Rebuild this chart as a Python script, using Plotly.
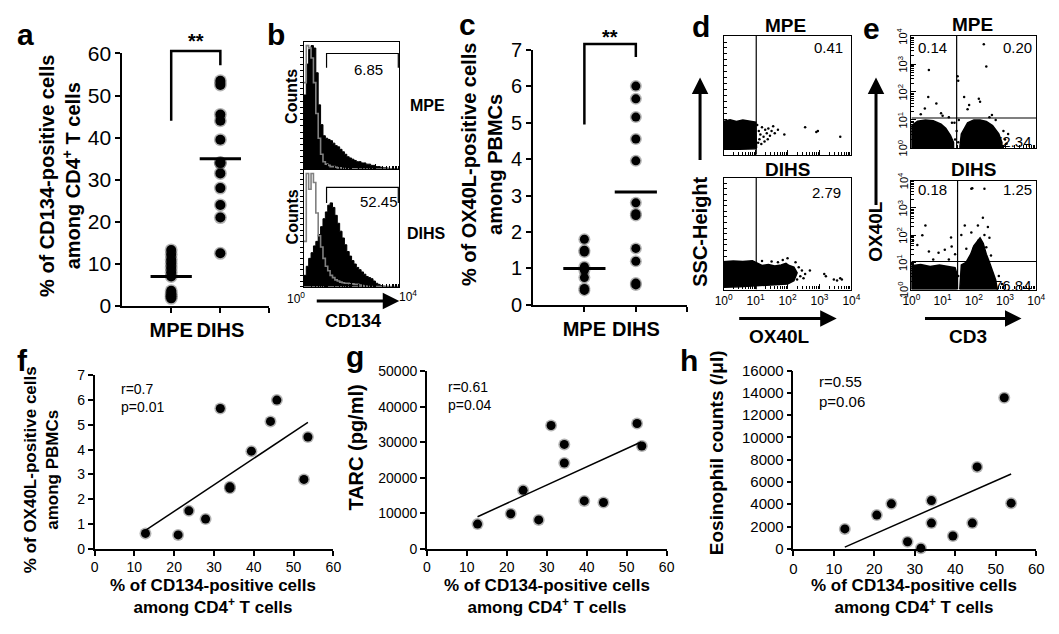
import math
import plotly.graph_objects as go

W, H = 1059, 634
SANS = "Liberation Sans, Arial, Helvetica, sans-serif"

# ---------------- values ----------------
groups = ["MPE", "DIHS"]
group_ticks = ["<b>MPE</b>", "<b>DIHS</b>", ""]

# a: % CD134+ among CD4+ T cells
a_mpe = [13.3, 12.2, 11.0, 10.0, 9.0, 8.0, 7.0, 3.6, 2.8, 2.3, 1.8]
a_dihs = [53.5, 52.5, 45.5, 44.0, 39.5, 34.0, 34.0, 31.5, 28.0, 24.0, 21.0, 12.5]
a_centre = [7.0, 35.0]
a_bracket = [44.0, 60.6, 60.6, 57.2]

# c: % OX40L+ among PBMCs
c_mpe = [1.8, 1.5, 1.45, 1.05, 0.95, 0.75, 0.45, 0.4]
c_dihs = [6.0, 5.65, 5.15, 4.55, 3.95, 2.8, 2.5, 2.45, 1.55, 1.2, 0.6, 0.55]
c_centre = [1.0, 3.1]
c_bracket = [4.95, 7.15, 7.15, 6.8]

# b: CD134 histograms (log10 fluorescence bins, % of max count)
hist_edges = [0.0, 0.1, 0.2, 0.3, 0.4, 0.5, 0.6, 0.7, 0.8, 0.9,
              1.0, 1.1, 1.2, 1.3, 1.4, 1.5, 1.6, 1.7, 1.8, 1.9,
              2.0, 2.1, 2.2, 2.3, 2.4, 2.5, 2.6, 2.7, 2.8, 2.9,
              3.0, 3.1, 3.2, 3.3, 3.4, 3.5, 3.6, 3.7, 3.8, 3.9, 4.0]
b_mpe_cd134 = [60, 85, 97, 100, 98, 78, 52, 36, 27, 25,
               24, 23, 21, 19, 18, 16, 14, 12, 10, 9,
               8, 7, 6, 6, 5, 5, 4, 4, 3, 3,
               2, 2, 1.5, 1, 1, 0.7, 0.5, 0.3, 0.2, 0]
b_mpe_ctrl = [70, 100, 98, 90, 70, 45, 25, 12, 6, 4,
              3, 2, 2, 1.5, 1, 1, 0.5, 0.5, 0.3, 0.3,
              0.2, 0.2, 0.1, 0.1, 0, 0, 0, 0, 0, 0,
              0, 0, 0, 0, 0, 0, 0, 0, 0, 0]
b_dihs_cd134 = [10, 18, 25, 30, 36, 40, 46, 53, 60, 66,
                72, 74, 70, 63, 56, 49, 43, 37, 31, 27,
                23, 20, 17, 15, 13, 11, 9, 8, 7, 5,
                3, 2, 1, 0.5, 0.3, 0.2, 0.1, 0, 0, 0]
b_dihs_ctrl = [40, 100, 86, 100, 92, 65, 45, 35, 25, 18,
               14, 10, 8, 6, 5, 4, 3.5, 3, 3, 2.5,
               2.5, 2, 2, 1.5, 1, 0.5, 0.3, 0.2, 0, 0,
               0, 0, 0, 0, 0, 0, 0, 0, 0, 0]
b_gate_x = [0.95, 0.95, 3.96, 3.96]
b_gate_mpe_y = [82, 93.6, 93.6, 82]
b_gate_dihs_y = [74, 87.7, 87.7, 74]
b_pct = ["6.85", "52.45"]
b_end_labels = ["10<sup>0</sup>", "10<sup>4</sup>"]

log_values = [0, 1, 2, 3, 4]
log_ticktext = ["10<sup>0</sup>", "10<sup>1</sup>", "10<sup>2</sup>", "10<sup>3</sup>", "10<sup>4</sup>"]

# d: OX40L vs SSC dot plots (x in log10 units, SSC on 0-1000)
d_gate = 1.02
d_pct = ["0.41", "2.79"]
d_mpe_blob_x = [0.0, 0.0, 0.2, 0.4, 0.6, 0.8, 1.0, 1.03, 1.0, 0.5, 0.0]
d_mpe_blob_y = [45, 280, 295, 280, 292, 285, 275, 60, 50, 45, 45]
d_mpe_dots_x = [1.05, 1.1, 1.12, 1.15, 1.2, 1.25, 1.3, 1.35, 1.4, 1.45, 1.5, 1.55, 1.6, 1.7, 1.9,
                1.08, 1.18, 1.28, 1.38, 2.55, 2.9, 2.95, 3.65]
d_mpe_dots_y = [250, 200, 130, 170, 230, 150, 210, 180, 220, 160, 200, 240, 180, 210, 170,
                100, 90, 110, 130, 230, 190, 200, 150]
d_dihs_blob_x = [0.0, 0.0, 0.3, 0.6, 0.9, 1.0, 1.2, 1.4, 1.6, 1.8, 1.95, 2.05, 2.2, 2.3, 2.2, 2.0, 1.5, 1.0, 0.5, 0.0]
d_dihs_blob_y = [20, 250, 255, 250, 258, 245, 215, 225, 210, 220, 235, 215, 200, 150, 80, 50, 40, 30, 25, 20]
d_dihs_dots_x = [2.35, 2.4, 2.45, 2.5, 2.55, 2.7, 3.15, 3.2, 3.45, 3.55, 3.65, 3.7, 2.0, 1.85, 1.5,
                 1.2, 2.25, 2.1, 2.3, 1.7]
d_dihs_dots_y = [200, 120, 170, 100, 140, 170, 140, 120, 90, 80, 100, 90, 280, 265, 250,
                 255, 245, 120, 90, 245]

# e: CD3 vs OX40L dot plots (both log10 units)
e_gate_x = [1.45, 1.48]
e_gate_y = [1.07, 1.03]
e_pct_mpe = ["0.14", "0.20", "72.34"]
e_pct_dihs = ["0.18", "1.25", "76.84"]
e_mpe_left_x = [0.0, 0.0, 0.2, 0.45, 0.7, 0.95, 1.1, 1.25, 1.35, 1.35, 0.0]
e_mpe_left_y = [0.0, 0.8, 0.95, 1.0, 0.97, 0.85, 0.7, 0.45, 0.2, 0.0, 0.0]
e_mpe_right_x = [1.55, 1.6, 1.8, 2.0, 2.2, 2.4, 2.6, 2.8, 2.9, 2.9, 1.55]
e_mpe_right_y = [0.0, 0.5, 0.9, 1.0, 1.0, 0.95, 0.8, 0.5, 0.2, 0.0, 0.0]
e_mpe_dots_x = [2.32, 2.40, 1.48, 1.5, 0.56, 0.54, 0.43, 0.8, 0.95, 1.69, 1.85, 2.16, 2.2, 2.58, 1.8,
                1.4, 1.45, 1.5, 1.38, 1.52, 3.0, 2.95, 3.05, 0.3, 1.0, 1.2, 1.3, 2.5, 2.7, 3.1]
e_mpe_dots_y = [3.71, 2.91, 2.56, 2.4, 2.79, 1.82, 1.41, 1.59, 1.24, 1.82, 1.53, 1.76, 1.65, 1.18, 1.38,
                0.3, 0.6, 0.2, 0.9, 1.0, 0.3, 0.6, 0.15, 1.2, 1.15, 1.1, 0.9, 1.1, 1.0, 0.5]
e_dihs_left_x = [0.0, 0.0, 0.3, 0.6, 0.9, 1.2, 1.4, 1.45, 1.45, 0.0]
e_dihs_left_y = [0.0, 0.88, 0.92, 0.85, 0.9, 0.85, 0.8, 0.6, 0.0, 0.0]
e_dihs_right_x = [1.55, 1.6, 1.75, 1.9, 2.0, 2.1, 2.2, 2.3, 2.4, 2.5, 2.6, 2.7, 2.75, 1.55]
e_dihs_right_y = [0.0, 0.9, 1.0, 1.3, 1.6, 1.75, 1.9, 1.7, 1.3, 1.0, 0.7, 0.35, 0.0, 0.0]
e_dihs_dots_x = [0.45, 0.35, 1.27, 0.19, 0.56, 0.87, 1.07, 1.29, 0.7, 1.2, 1.4,
                 1.92, 1.95, 2.34, 2.29, 2.13, 1.71, 1.92, 2.45, 2.34, 2.15, 2.5, 2.4, 1.6, 1.76,
                 2.55, 1.98, 2.2, 2.8, 2.9, 1.5, 0.05]
e_dihs_dots_y = [2.35, 1.99, 1.91, 1.64, 1.4, 1.35, 1.46, 1.58, 1.1, 1.1, 1.3,
                 3.7, 3.72, 3.7, 2.64, 2.35, 2.35, 2.1, 2.3, 2.0, 1.8, 1.9, 1.55, 2.0, 1.5,
                 1.25, 1.5, 1.75, 0.5, 0.2, 0.5, 1.8]

# f, g, h: correlations with % CD134+ cells
f_x = [12.8, 21.0, 23.7, 27.9, 31.6, 34.0, 34.0, 39.4, 44.2, 45.8, 52.6, 53.6]
f_y = [0.62, 0.56, 1.53, 1.2, 5.66, 2.5, 2.44, 3.94, 5.14, 6.0, 2.8, 4.51]
f_fit_x = [12.6, 53.6]
f_fit_y = [0.72, 5.1]
f_stats = "r=0.7<br>p=0.01"

g_x = [12.7, 21.0, 24.1, 28.0, 31.1, 34.4, 34.4, 39.4, 44.2, 52.6, 53.8]
g_y = [6975, 9870, 16490, 8150, 34780, 29440, 24180, 13500, 13040, 35330, 28990]
g_fit_x = [12.7, 53.6]
g_fit_y = [9050, 30100]
g_stats = "r=0.61<br>p=0.04"

h_x = [12.7, 20.6, 24.2, 28.2, 31.5, 34.1, 34.1, 39.4, 44.2, 45.4, 52.1, 53.8]
h_y = [1787, 3027, 4036, 634, 58, 4324, 2306, 1153, 2306, 7351, 13550, 4094]
h_fit_x = [12.7, 53.8]
h_fit_y = [144, 6717]
h_stats = "r=0.55<br>p=0.06"

cd134_title = "<b>% of CD134-positive cells<br>among CD4<sup>+</sup> T cells</b>"


# ---------------- helpers (positions in pixels from the top-left) ----------------
def px(x):
    return x / W


def py(y):
    return 1 - y / H


def xd(left, right):
    return [px(left), px(right)]


def yd(top, bottom):
    return [py(bottom), py(top)]


def axis(domain, anchor, **kw):
    d = dict(domain=domain, anchor=anchor, showline=True, linecolor="black", linewidth=1.5,
             showgrid=False, zeroline=False, ticks="outside", tickcolor="black",
             ticklen=5, tickwidth=1.5,
             tickfont=dict(family=SANS, size=14, color="black"))
    d.update(kw)
    return d


LOG_MINOR = [dec + math.log10(k) for dec in range(4) for k in range(2, 10)]


def log_axis(domain, anchor, labels=False, **kw):
    return axis(domain, anchor, range=[0, 4], tickvals=log_values,
                ticktext=log_ticktext, showticklabels=labels, ticks="inside",
                ticklen=5, tickwidth=1, linewidth=1.2, mirror=True,
                tickfont=dict(family=SANS, size=12, color="black"),
                minor=dict(tickvals=LOG_MINOR, ticks="inside", ticklen=3,
                           tickwidth=1, tickcolor="black"), **kw)


traces = []


def dots(x, y, xa, ya, size=10):
    # soft edge like the scanned markers, then the solid core
    traces.append(go.Scatter(x=x, y=y, xaxis=xa, yaxis=ya, mode="markers", cliponaxis=False,
                             marker=dict(size=size + 3, color="rgba(0,0,0,0.3)"),
                             hoverinfo="skip"))
    traces.append(go.Scatter(x=x, y=y, xaxis=xa, yaxis=ya, mode="markers", cliponaxis=False,
                             marker=dict(size=size, color="black")))


def line(x, y, xa, ya, width=1.5, color="black", **kw):
    traces.append(go.Scatter(x=x, y=y, xaxis=xa, yaxis=ya, mode="lines",
                             line=dict(color=color, width=width), hoverinfo="skip", **kw))


def blob(x, y, xa, ya):
    traces.append(go.Scatter(x=x, y=y, xaxis=xa, yaxis=ya, mode="lines", fill="toself",
                             fillcolor="black", line=dict(color="black", width=1.5),
                             hoverinfo="skip"))


def speckle(x, y, xa, ya):
    traces.append(go.Scatter(x=x, y=y, xaxis=xa, yaxis=ya, mode="markers",
                             marker=dict(size=2.5, color="black"), hoverinfo="skip"))


# ---------------- a ----------------
dots([1] * len(a_mpe), a_mpe, "x", "y")
dots([2] * len(a_dihs), a_dihs, "x", "y")
for i, v in enumerate(a_centre):
    line([i + 1 - 0.42, i + 1 + 0.42], [v, v], "x", "y", width=3)
line([1, 1, 2, 2], a_bracket, "x", "y12", width=2.5)

# ---------------- c ----------------
dots([1] * len(c_mpe), c_mpe, "x4", "y4", size=9)
dots([2] * len(c_dihs), c_dihs, "x4", "y4", size=9)
for i, v in enumerate(c_centre):
    line([i + 1 - 0.41, i + 1 + 0.41], [v, v], "x4", "y4", width=3)
line([1, 1, 2, 2], c_bracket, "x4", "y13", width=2.5)

# ---------------- b ----------------
for vals, ctrl, xa, ya, gate in [(b_mpe_cd134, b_mpe_ctrl, "x2", "y2", b_gate_mpe_y),
                                 (b_dihs_cd134, b_dihs_ctrl, "x3", "y3", b_gate_dihs_y)]:
    traces.append(go.Scatter(x=hist_edges, y=vals + vals[-1:], xaxis=xa, yaxis=ya,
                             mode="lines", line=dict(shape="hv", color="black", width=1),
                             fill="tozeroy", fillcolor="black", hoverinfo="skip"))
    traces.append(go.Scatter(x=hist_edges, y=ctrl + ctrl[-1:], xaxis=xa, yaxis=ya,
                             mode="lines", line=dict(shape="hv", color="#808080", width=1.6),
                             hoverinfo="skip"))
    line(b_gate_x, gate, xa, ya, width=1.2)

# ---------------- d ----------------
blob(d_mpe_blob_x, d_mpe_blob_y, "x5", "y5")
speckle(d_mpe_dots_x, d_mpe_dots_y, "x5", "y5")
blob(d_dihs_blob_x, d_dihs_blob_y, "x6", "y6")
speckle(d_dihs_dots_x, d_dihs_dots_y, "x6", "y6")
for ya in ["y5", "y6"]:
    line([d_gate, d_gate], [0, 1000], "x" + ya[1:], ya, width=1.2)

# ---------------- e ----------------
blob(e_mpe_left_x, e_mpe_left_y, "x7", "y7")
blob(e_mpe_right_x, e_mpe_right_y, "x7", "y7")
speckle(e_mpe_dots_x, e_mpe_dots_y, "x7", "y7")
blob(e_dihs_left_x, e_dihs_left_y, "x8", "y8")
blob(e_dihs_right_x, e_dihs_right_y, "x8", "y8")
speckle(e_dihs_dots_x, e_dihs_dots_y, "x8", "y8")
for k, (xa, ya) in enumerate([("x7", "y7"), ("x8", "y8")]):
    line([e_gate_x[k], e_gate_x[k]], [0, 4], xa, ya, width=1.2)
    line([0, 4], [e_gate_y[k], e_gate_y[k]], xa, ya, width=1.2)

# ---------------- f, g, h ----------------
for xs, ys, fx, fy, xa, ya in [(f_x, f_y, f_fit_x, f_fit_y, "x9", "y9"),
                               (g_x, g_y, g_fit_x, g_fit_y, "x10", "y10"),
                               (h_x, h_y, h_fit_x, h_fit_y, "x11", "y11")]:
    line(fx, fy, xa, ya, width=1.5)
    dots(xs, ys, xa, ya, size=9)

fig = go.Figure(traces)

layout = dict(width=W, height=H, margin=dict(l=0, r=0, t=0, b=0), showlegend=False,
              paper_bgcolor="white", plot_bgcolor="rgba(0,0,0,0)",
              font=dict(family=SANS, color="black"))

big_ticks = dict(family=SANS, size=21, color="black")
grp_font = dict(family=SANS, size=20, color="black")

# a
layout["xaxis"] = axis(xd(115, 265), "y", range=[0, 3], tickvals=[1, 2, 3],
                       ticktext=group_ticks, tickfont=grp_font)
layout["yaxis"] = axis(yd(43, 305), "x", range=[0, 60], dtick=10, tickfont=big_ticks)
layout["yaxis12"] = dict(domain=yd(15, 305), anchor="x", range=[0, 60 * 290 / 262], visible=False)
# c
layout["xaxis4"] = axis(xd(533, 690), "y4", range=[0, 3], tickvals=[1, 2, 3],
                        ticktext=group_ticks, tickfont=grp_font)
layout["yaxis4"] = axis(yd(39, 304), "x4", range=[0, 7], dtick=1,
                        tickfont=dict(family=SANS, size=20, color="black"))
layout["yaxis13"] = dict(domain=yd(15, 304), anchor="x4", range=[0, 7 * 289 / 265], visible=False)
# b
for n, (top, bot) in [(2, (31, 163)), (3, (164, 285))]:
    layout[f"xaxis{n}"] = log_axis(xd(300, 397), f"y{n}")
    layout[f"yaxis{n}"] = axis(yd(top, bot), f"x{n}", range=[0, 103], dtick=5, ticklen=3,
                               tickwidth=1, linewidth=1.2, mirror=True, showticklabels=False)
# d
for n, (top, bot) in [(5, (25, 148)), (6, (172, 288))]:
    layout[f"xaxis{n}"] = log_axis(xd(727, 857), f"y{n}", labels=(n == 6))
    layout[f"yaxis{n}"] = axis(yd(top, bot), f"x{n}", range=[0, 1000], dtick=50, ticks="inside",
                               ticklen=3, tickwidth=1, linewidth=1.2, mirror=True,
                               showticklabels=False)
# e (y tick labels are written rotated, see annotations)
for n, (top, bot) in [(7, (25, 141)), (8, (175, 288))]:
    layout[f"xaxis{n}"] = log_axis(xd(918, 1045), f"y{n}", labels=(n == 8))
    layout[f"yaxis{n}"] = log_axis(yd(top, bot), f"x{n}")
# f g h
layout["xaxis9"] = axis(xd(87, 330), "y9", range=[0, 60], dtick=10)
layout["yaxis9"] = axis(yd(377, 557), "x9", range=[0, 7], dtick=1)
layout["xaxis10"] = axis(xd(425, 669), "y10", range=[0, 60], dtick=10)
layout["yaxis10"] = axis(yd(373, 557), "x10", range=[0, 50000], dtick=10000, tickformat="d")
layout["xaxis11"] = axis(xd(798, 1045), "y11", range=[0, 60], dtick=10,
                         tickfont=dict(family=SANS, size=15, color="black"))
layout["yaxis11"] = axis(yd(372, 557), "x11", range=[0, 16000], dtick=2000, tickformat="d",
                         tickfont=dict(family=SANS, size=15, color="black"))

fig.update_layout(layout)

ann = []


def text(t, x, y, size, bold=False, angle=0, xanchor="center"):
    ann.append(dict(text=f"<b>{t}</b>" if bold else t, x=px(x), y=py(y), xref="paper",
                    yref="paper", showarrow=False, textangle=angle,
                    xanchor=xanchor, yanchor="middle",
                    font=dict(family=SANS, size=size, color="black")))


def data_text(t, x, y, xa, ya, size, xanchor="center", align="center", angle=0):
    ann.append(dict(text=t, x=x, y=y, xref=xa, yref=ya, showarrow=False, textangle=angle,
                    xanchor=xanchor, yanchor="middle", align=align,
                    font=dict(family=SANS, size=size, color="black")))


def arrow(hx, hy, tx, ty):
    ann.append(dict(text="", x=px(hx), y=py(hy), xref="paper", yref="paper",
                    ax=tx - hx, ay=ty - hy, axref="pixel", ayref="pixel", showarrow=True,
                    arrowhead=2, arrowsize=1.1, arrowwidth=3, arrowcolor="black"))


# panel letters
for letter, x, y in [("a", 17, 23), ("b", 272, 23), ("c", 466, 13), ("d", 704, 15),
                     ("e", 877, 17), ("f", 14, 362), ("g", 352, 357), ("h", 692, 362)]:
    text(letter, x, y, 30, bold=True)

# a and c
text("% of CD134-positive cells<br>among CD4<sup>+</sup> T cells", 52, 170, 20, bold=True, angle=-90)
text("% of OX40L-positive cells<br>among PBMCs", 481, 158, 20, bold=True, angle=-90)
data_text("<b>**</b>", 1.5, 63, "x", "y12", 20)
data_text("<b>**</b>", 1.5, 7.34, "x4", "y13", 20)

# b
text("Counts", 288, 88, 16, bold=True, angle=-90)
text("Counts", 288, 213, 16, bold=True, angle=-90)
text(groups[0], 426, 97, 16, bold=True)
text(groups[1], 425, 230, 16, bold=True)
data_text(b_pct[0], 2.72, 81, "x2", "y2", 15)
data_text(b_pct[1], 3.13, 75, "x3", "y3", 15)
text(b_end_labels[0], 292, 297, 12)
text(b_end_labels[1], 406, 295, 12)
arrow(397, 300, 313, 300)
text("CD134", 350, 321, 18, bold=True)

# d
text(groups[0], 790, 14, 19, bold=True)
text(groups[1], 792, 163, 19, bold=True)
data_text(d_pct[0], 3.8, 900, "x5", "y5", 15, xanchor="right")
data_text(d_pct[1], 3.75, 870, "x6", "y6", 15, xanchor="right")
text("SSC-Height", 703, 228, 20, bold=True, angle=-90)
arrow(703, 68, 703, 152)
arrow(842, 318, 743, 318)
text("OX40L", 784, 337, 19, bold=True)

# e
text(groups[0], 980, 13, 19, bold=True)
text(groups[1], 981, 163, 19, bold=True)
for pct, xa, ya, ytop, ybot in [(e_pct_mpe, "x7", "y7", 3.6, 0.22), (e_pct_dihs, "x8", "y8", 3.68, 0.14)]:
    data_text(pct[0], 0.14, ytop, xa, ya, 15, xanchor="left")
    data_text(pct[1], 3.92, ytop, xa, ya, 15, xanchor="right")
    data_text(pct[2], 3.92, ybot, xa, ya, 15, xanchor="right")
    for v, t in zip(log_values, log_ticktext):
        data_text(t, px(909), v, "paper", ya, 11, angle=-90)
text("OX40L", 882, 228, 19, bold=True, angle=-90)
arrow(882, 68, 882, 197)
arrow(1030, 318, 932, 318)
text("CD3", 976, 337, 19, bold=True)

# f g h
for cx in [208, 547, 921]:
    text(cd134_title, cx, 607, 17)
text("% of OX40L-positive cells<br>among PBMCs", 33, 475, 17, bold=True, angle=-90)
text("TARC (pg/ml)", 353, 452, 20, bold=True, angle=-90)
text("Eosinophil counts (/μl)", 720, 457, 19, bold=True, angle=-90)
data_text(f_stats, 6.2, 6.07, "x9", "y9", 14, xanchor="left", align="left")
data_text(g_stats, 4.9, 43200, "x10", "y10", 14, xanchor="left", align="left")
data_text(h_stats, 5.8, 14100, "x11", "y11", 15, xanchor="left", align="left")

fig.update_layout(annotations=ann)
# no mode bar, and drop the browser's default body margin so the figure fills the window
fig.write_html("out.html", config={"displayModeBar": False},
               post_script="document.body.style.margin='0px';")
